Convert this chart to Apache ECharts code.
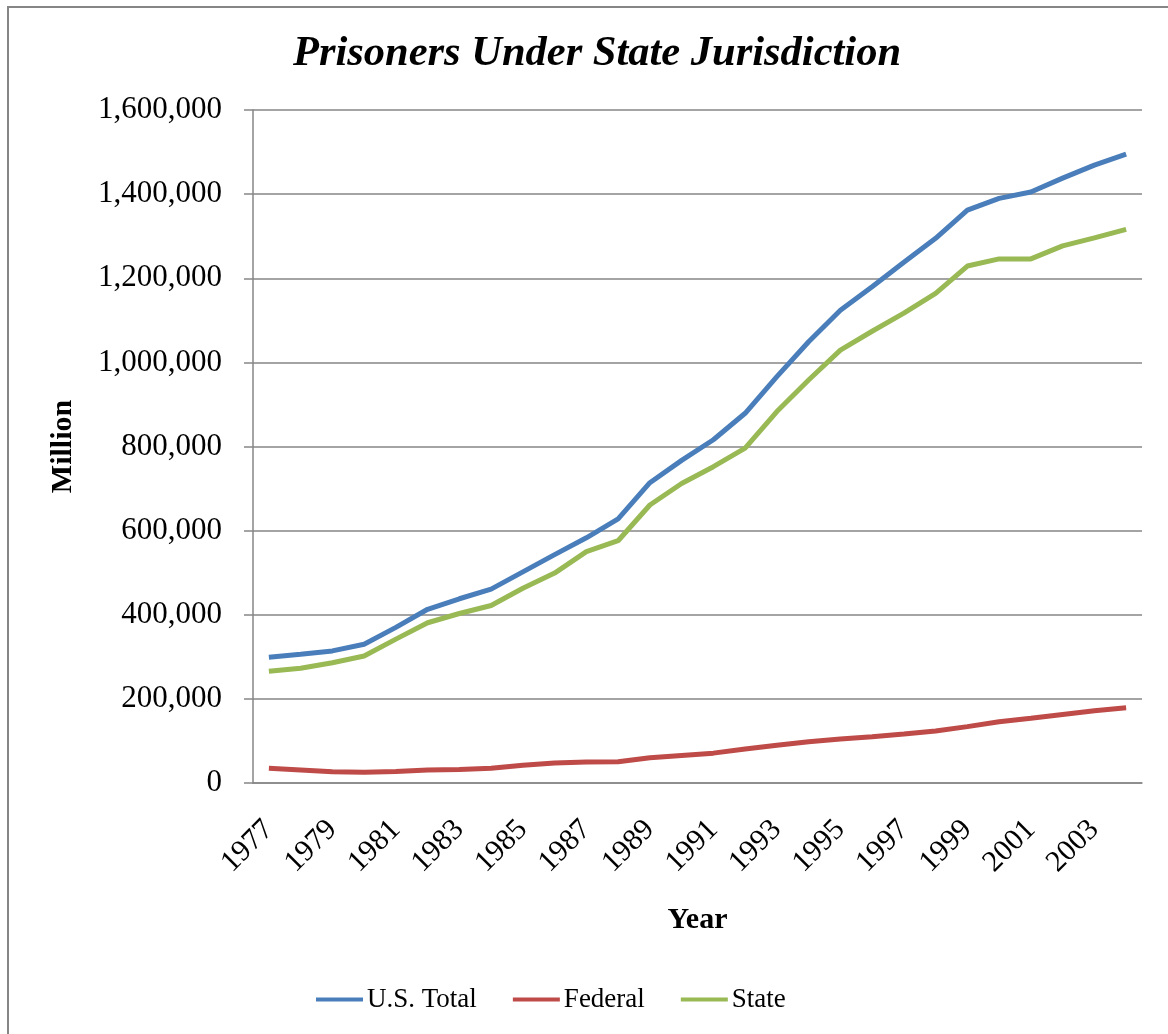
<!DOCTYPE html>
<html>
<head>
<meta charset="utf-8">
<style>
  html, body { margin: 0; padding: 0; background: #ffffff; }
  #chart { width: 1168px; height: 1034px; }
</style>
<script src="https://cdn.jsdelivr.net/npm/echarts@6/dist/echarts.min.js"></script>
</head>
<body>
<div id="chart"></div>
<script>
// Prisoners under jurisdiction, by year
const years = ['1977','1978','1979','1980','1981','1982','1983','1984','1985','1986',
  '1987','1988','1989','1990','1991','1992','1993','1994','1995','1996',
  '1997','1998','1999','2000','2001','2002','2003','2004'];

const usTotal = [299000, 306000, 314000, 330000, 370000, 413000, 438000, 461000, 502000, 543000,
  583000, 628000, 714000, 767000, 816000, 879000, 966000, 1049000, 1124000, 1180000,
  1238000, 1295000, 1362000, 1390000, 1405000, 1438000, 1469000, 1495000];

const federal = [35000, 31000, 27000, 25500, 27500, 31000, 32000, 35000, 42000, 47500,
  50000, 50500, 60000, 65500, 71000, 81000, 90000, 98000, 104500, 110000,
  116500, 123500, 134000, 145500, 154000, 163000, 172000, 179000];

const state = [265500, 273000, 286000, 302000, 342000, 381000, 403000, 422000, 463000, 499000,
  550000, 576000, 661000, 712000, 752000, 796000, 883000, 958000, 1029000, 1074000,
  1117000, 1164000, 1229000, 1246000, 1246000, 1277000, 1296000, 1316000];

const seriesNames = ['U.S. Total', 'Federal', 'State'];
const seriesColors = ['#4A7EBB', '#BE4B48', '#98B954'];

const serif = '"Liberation Serif", "Times New Roman", serif';
const gridColor = '#868686';

const chart = echarts.init(document.getElementById('chart'), null, { renderer: 'canvas' });

function lineSeries(name, data, color) {
  return {
    name: name,
    type: 'line',
    data: data,
    symbol: 'none',
    smooth: false,
    lineStyle: { color: color, width: 5 },
    itemStyle: { color: color },
    emphasis: { disabled: true }
  };
}

chart.setOption({
  backgroundColor: '#ffffff',
  animation: false,
  title: {
    text: 'Prisoners Under State Jurisdiction',
    left: 592,
    textAlign: 'center',
    top: 28,
    textStyle: {
      fontFamily: serif,
      fontSize: 42.5,
      fontStyle: 'italic',
      fontWeight: 'bold',
      color: '#000000'
    }
  },
  graphic: [
    {
      type: 'polyline',
      shape: { points: [[8, 1040], [8, 7], [1170, 7]] },
      style: { stroke: gridColor, lineWidth: 2, fill: null },
      silent: true
    }
  ],
  legend: {
    data: seriesNames,
    bottom: 16,
    left: 311,
    itemWidth: 47,
    itemHeight: 4,
    itemGap: 36,
    icon: 'rect',
    textStyle: { fontFamily: serif, fontSize: 27, color: '#000000', padding: [0, 0, 0, -1] }
  },
  grid: {
    left: 253,
    right: 26,
    top: 110,
    bottom: 251,
    containLabel: false
  },
  xAxis: {
    type: 'category',
    data: years,
    boundaryGap: true,
    name: 'Year',
    nameLocation: 'middle',
    nameGap: 122,
    nameTextStyle: { fontFamily: serif, fontSize: 30, fontWeight: 'bold', color: '#000000' },
    axisLine: { lineStyle: { color: gridColor, width: 1.5 } },
    axisTick: { alignWithLabel: false, interval: 0, length: 9, lineStyle: { color: gridColor, width: 1.5 } },
    axisLabel: {
      interval: 1,
      rotate: 45,
      margin: 42,
      fontFamily: serif,
      fontSize: 30,
      color: '#000000'
    },
    splitLine: { show: false }
  },
  yAxis: {
    type: 'value',
    min: 0,
    max: 1600000,
    interval: 200000,
    name: 'Million',
    nameLocation: 'middle',
    nameGap: 175,
    nameRotate: 90,
    nameTextStyle: { fontFamily: serif, fontSize: 30, fontWeight: 'bold', color: '#000000' },
    axisLine: { show: true, lineStyle: { color: gridColor, width: 1.5 } },
    axisTick: { show: true, length: 9, lineStyle: { color: gridColor, width: 1.5 } },
    axisLabel: {
      margin: 31,
      fontFamily: serif,
      fontSize: 31,
      color: '#000000',
      formatter: function (v) { return v.toLocaleString('en-US'); }
    },
    splitLine: { show: true, lineStyle: { color: gridColor, width: 1.5 } }
  },
  series: [
    lineSeries(seriesNames[0], usTotal, seriesColors[0]),
    lineSeries(seriesNames[1], federal, seriesColors[1]),
    lineSeries(seriesNames[2], state, seriesColors[2])
  ]
});
</script>
</body>
</html>
